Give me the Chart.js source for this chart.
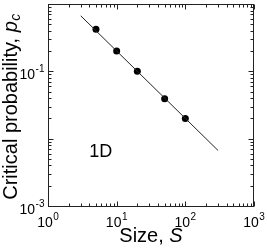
<!DOCTYPE html>
<html>
<head>
<meta charset="utf-8">
<script src="https://cdn.jsdelivr.net/npm/chart.js@4/dist/chart.umd.min.js"></script>
<style>
html,body{margin:0;padding:0;background:#fff;}
canvas{display:block;}
</style>
</head>
<body>
<canvas id="c" width="267" height="249"></canvas>
<script>
// Data
const sizes = [5, 10, 20, 50, 100];
const criticalProb = [0.42, 0.2, 0.1, 0.039, 0.02];
const fitSizes = [3, 300];
const fitProb = [0.667, 0.00667];
const xTickExps = [0, 1, 2, 3];
const xTickLabelExps = [0, 1, 2, 3];
const yTickExps = [-3, -2, -1, 0];
const yTickLabelExps = [-3, -1];
const panelLabel = '1D';
const xTitleText = 'Size, ';
const xTitleVar = 'S';
const yTitleText = 'Critical probability, ';
const yTitleVar = 'p';
const yTitleSub = 'c';

const FONT = '"Liberation Sans", Arial, Helvetica, sans-serif';

function drawPow(ctx, exp, x, baseY, align) {
  const base = '10';
  const sup = String(exp);
  ctx.font = '14px ' + FONT;
  const wb = ctx.measureText(base).width;
  ctx.font = '10px ' + FONT;
  const ws = ctx.measureText(sup).width;
  const total = wb + ws + 0.5;
  let x0 = align === 'right' ? x - total : x - total / 2;
  ctx.textAlign = 'left';
  ctx.textBaseline = 'alphabetic';
  ctx.font = '14px ' + FONT;
  ctx.fillText(base, x0, baseY);
  ctx.font = '10px ' + FONT;
  ctx.fillText(sup, x0 + wb + 0.5, baseY - 7);
}

const framePlugin = {
  id: 'frame',
  afterDraw(chart) {
    const ctx = chart.ctx;
    const xs = chart.scales.x, ys = chart.scales.y;
    const a = chart.chartArea;
    const L = Math.round(a.left) + 0.5, R = Math.round(a.right) - 0.5;
    const T = Math.round(a.top) + 0.5, B = Math.round(a.bottom) + 0.5;
    ctx.save();
    ctx.strokeStyle = '#222';
    ctx.lineWidth = 1;
    ctx.strokeRect(L, T, R - L, B - T);
    // ticks (inward, all four sides)
    ctx.beginPath();
    xTickExps.forEach((e, i) => {
      for (let m = 1; m <= 9; m++) {
        if (i === xTickExps.length - 1 && m > 1) break;
        const v = m * Math.pow(10, e);
        const px = Math.round(xs.getPixelForValue(v)) + 0.5;
        const len = m === 1 ? 5 : 3;
        ctx.moveTo(px, B); ctx.lineTo(px, B - len);
        ctx.moveTo(px, T); ctx.lineTo(px, T + len);
      }
    });
    yTickExps.forEach((e, i) => {
      for (let m = 1; m <= 9; m++) {
        if (i === yTickExps.length - 1 && m > 1) break;
        const v = m * Math.pow(10, e);
        const py = Math.round(ys.getPixelForValue(v)) + 0.5;
        const len = m === 1 ? 5 : 3;
        ctx.moveTo(L, py); ctx.lineTo(L + len, py);
        ctx.moveTo(R, py); ctx.lineTo(R - len, py);
      }
    });
    ctx.stroke();
    // tick labels
    ctx.fillStyle = '#000';
    xTickLabelExps.forEach(e => {
      drawPow(ctx, e, xs.getPixelForValue(Math.pow(10, e)), a.bottom + 21, 'center');
    });
    yTickLabelExps.forEach(e => {
      drawPow(ctx, e, a.left - 3.5, ys.getPixelForValue(Math.pow(10, e)) + 7.5, 'right');
    });
    // x title
    ctx.font = '20px ' + FONT;
    const w1 = ctx.measureText(xTitleText).width;
    ctx.font = 'italic 20px ' + FONT;
    const w2 = ctx.measureText(xTitleVar).width;
    let x0 = (a.left + a.right) / 2 - (w1 + w2) / 2;
    ctx.textAlign = 'left';
    ctx.textBaseline = 'alphabetic';
    ctx.font = '20px ' + FONT;
    ctx.fillText(xTitleText, x0, 242);
    ctx.font = 'italic 20px ' + FONT;
    ctx.fillText(xTitleVar, x0 + w1, 242);
    // y title (rotated)
    ctx.save();
    ctx.translate(17, (a.top + a.bottom) / 2 + 2);
    ctx.rotate(-Math.PI / 2);
    ctx.font = '20px ' + FONT;
    const v1 = ctx.measureText(yTitleText).width;
    ctx.font = 'italic 20px ' + FONT;
    const v2 = ctx.measureText(yTitleVar).width;
    ctx.font = 'italic 14px ' + FONT;
    const v3 = ctx.measureText(yTitleSub).width;
    let y0 = -(v1 + v2 + v3) / 2;
    ctx.font = '20px ' + FONT;
    ctx.fillText(yTitleText, y0, 0);
    ctx.font = 'italic 20px ' + FONT;
    ctx.fillText(yTitleVar, y0 + v1, 0);
    ctx.font = 'italic 14px ' + FONT;
    ctx.fillText(yTitleSub, y0 + v1 + v2 + 0.5, 3);
    ctx.restore();
    // panel label
    ctx.font = '18px ' + FONT;
    ctx.fillText(panelLabel, xs.getPixelForValue(4), ys.getPixelForValue(0.0053));
    ctx.restore();
  }
};

new Chart(document.getElementById('c'), {
  type: 'scatter',
  data: {
    datasets: [
      {
        data: fitSizes.map((s, i) => ({x: s, y: fitProb[i]})),
        showLine: true,
        borderColor: '#222',
        borderWidth: 1,
        pointRadius: 0,
        fill: false
      },
      {
        data: sizes.map((s, i) => ({x: s, y: criticalProb[i]})),
        showLine: false,
        backgroundColor: '#000',
        borderColor: '#000',
        pointRadius: 3.5,
        borderWidth: 0
      }
    ]
  },
  options: {
    responsive: false,
    animation: false,
    devicePixelRatio: 1,
    layout: {padding: {left: 48, right: 13, top: 1, bottom: 43}},
    plugins: {legend: {display: false}, tooltip: {enabled: false}},
    scales: {
      x: {type: 'logarithmic', min: 1, max: 1000, display: false},
      y: {type: 'logarithmic', min: 0.001, max: 1, display: false}
    }
  },
  plugins: [framePlugin]
});
</script>
</body>
</html>
